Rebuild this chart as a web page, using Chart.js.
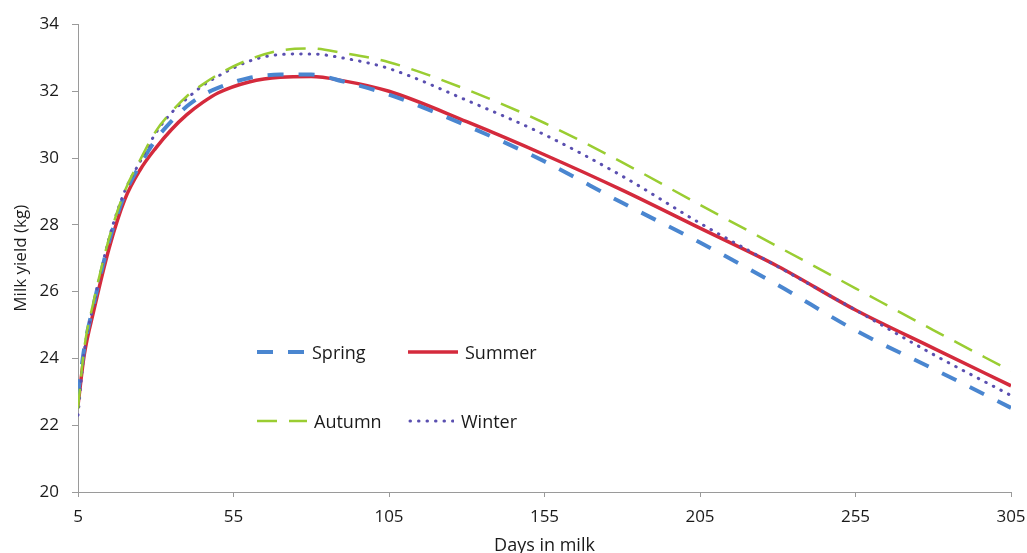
<!DOCTYPE html>
<html><head><meta charset="utf-8">
<script src="https://cdn.jsdelivr.net/npm/chart.js@4.4.1/dist/chart.umd.min.js"></script>
<style>
html,body{margin:0;padding:0;background:#fff;}
#wrap{position:relative;width:1027px;height:553px;overflow:hidden;}
#legend{position:absolute;left:0;top:0;font-family:"Open Sans",sans-serif;font-size:18px;color:#1a1a1a;}
.li{position:absolute;display:flex;align-items:center;white-space:nowrap;transform:translateY(-50%);}
.li svg{display:block;margin-right:7px;}
</style></head><body>
<div id="wrap"><canvas id="c"></canvas><div id="legend"></div></div>
<script>
// Days in milk (x values)
const days   = [5, 7, 10, 15, 20, 25, 30, 35, 40, 45, 50, 60, 70, 80, 90, 105, 130, 155, 180, 205, 230, 255, 280, 305];
// Milk yield (kg) per season
const spring = [22.9, 24.3, 25.6, 27.5, 28.9, 29.8, 30.55, 31.1, 31.55, 31.88, 32.1, 32.4, 32.5, 32.5, 32.3, 31.9, 30.97, 29.9, 28.66, 27.47, 26.2, 24.84, 23.69, 22.52];
const summer = [22.6, 24.1, 25.4, 27.3, 28.75, 29.65, 30.3, 30.85, 31.3, 31.66, 31.95, 32.28, 32.42, 32.44, 32.32, 32.0, 31.09, 30.1, 29.04, 27.9, 26.76, 25.45, 24.31, 23.18];
const autumn = [22.5, 24.3, 25.7, 27.6, 29.0, 29.95, 30.8, 31.38, 31.85, 32.2, 32.5, 32.95, 33.22, 33.28, 33.15, 32.87, 32.05, 31.05, 29.87, 28.6, 27.35, 26.1, 24.85, 23.62];
const winter = [22.3, 24.2, 25.6, 27.6, 29.0, 29.9, 30.75, 31.35, 31.78, 32.16, 32.45, 32.9, 33.1, 33.12, 33.0, 32.68, 31.73, 30.7, 29.46, 28.05, 26.75, 25.45, 24.12, 22.89];
const seriesNames = ['Spring', 'Summer', 'Autumn', 'Winter'];
const xTicks = [5, 55, 105, 155, 205, 255, 305];
const yTicks = [20, 22, 24, 26, 28, 30, 32, 34];

const styles = [
  {color:'#4a86d0', width:4,   dash:[16,15], cap:'butt'},
  {color:'#d42a3c', width:3.5, dash:[],      cap:'butt'},
  {color:'#9acd32', width:2.5, dash:[20,12], cap:'butt'},
  {color:'#5a4fb0', width:3,   dash:[0.5,8], cap:'round'}
];
const values = [spring, summer, autumn, winter];

const datasets = values.map((vals, i) => ({
  label: seriesNames[i],
  data: days.map((d, k) => ({x: d, y: vals[k]})),
  borderColor: styles[i].color,
  borderWidth: styles[i].width,
  borderDash: styles[i].dash,
  borderCapStyle: styles[i].cap,
  pointRadius: 0,
  fill: false,
  cubicInterpolationMode: 'monotone'
}));
const order = [2, 3, 0, 1];
const orderedDatasets = order.map(i => datasets[i]);

const axisColor = '#9a9a9a';
const textColor = '#1a1a1a';

new Chart(document.getElementById('c'), {
  type: 'line',
  data: { datasets: orderedDatasets },
  options: {
    responsive: true,
    maintainAspectRatio: false,
    animation: false,
    layout: { padding: { top: 24.5, right: 16, left: 0, bottom: 0 } },
    plugins: { legend: { display: false }, tooltip: { enabled: false } },
    scales: {
      x: {
        type: 'linear', min: 5, max: 305,
        afterBuildTicks: s => { s.ticks = xTicks.map(v => ({value: v})); },
        afterFit: s => { s.height = 61; s.paddingLeft = 0; s.paddingRight = 0; },
        grid: { drawOnChartArea: false, drawTicks: true, tickLength: 5, color: axisColor },
        border: { display: true, color: axisColor, width: 1 },
        ticks: { color: textColor, font: { family: 'Open Sans', size: 17 }, padding: 10, maxRotation: 0 },
        title: { display: true, text: 'Days in milk', color: textColor,
                 font: { family: 'Open Sans', size: 18, lineHeight: 1 }, padding: { top: 0, bottom: -2 } }
      },
      y: {
        type: 'linear', min: 20, max: 34,
        afterBuildTicks: s => { s.ticks = yTicks.map(v => ({value: v})); },
        afterFit: s => { s.width = 78; s.paddingTop = 0; s.paddingBottom = 0; },
        grid: { drawOnChartArea: false, drawTicks: true, tickLength: 6, color: axisColor },
        border: { display: true, color: axisColor, width: 1 },
        ticks: { color: textColor, font: { family: 'Open Sans', size: 17 }, padding: 13 },
        title: { display: true, text: 'Milk yield (kg)', color: textColor,
                 font: { family: 'Open Sans', size: 17, lineHeight: 1 }, padding: { top: 13, bottom: 0 } }
      }
    }
  }
});

// HTML legend inside the plot area (2 x 2)
const legendPos = [
  {left: 257, top: 352, w: 48},
  {left: 408, top: 352, w: 50},
  {left: 257, top: 421, w: 50},
  {left: 408, top: 421, w: 46}
];
const leg = document.getElementById('legend');
seriesNames.forEach((name, i) => {
  const p = legendPos[i], st = styles[i];
  const el = document.createElement('div');
  el.className = 'li';
  el.style.left = p.left + 'px';
  el.style.top = p.top + 'px';
  const dash = st.dash.length ? st.dash.join(' ') : 'none';
  el.innerHTML = `<svg width="${p.w}" height="8"><line x1="${st.cap==='round'?2:0}" y1="4" x2="${p.w}" y2="4" stroke="${st.color}" stroke-width="${st.width}" stroke-dasharray="${dash}" stroke-linecap="${st.cap}"/></svg><span>${name}</span>`;
  leg.appendChild(el);
});
</script>
</body></html>
